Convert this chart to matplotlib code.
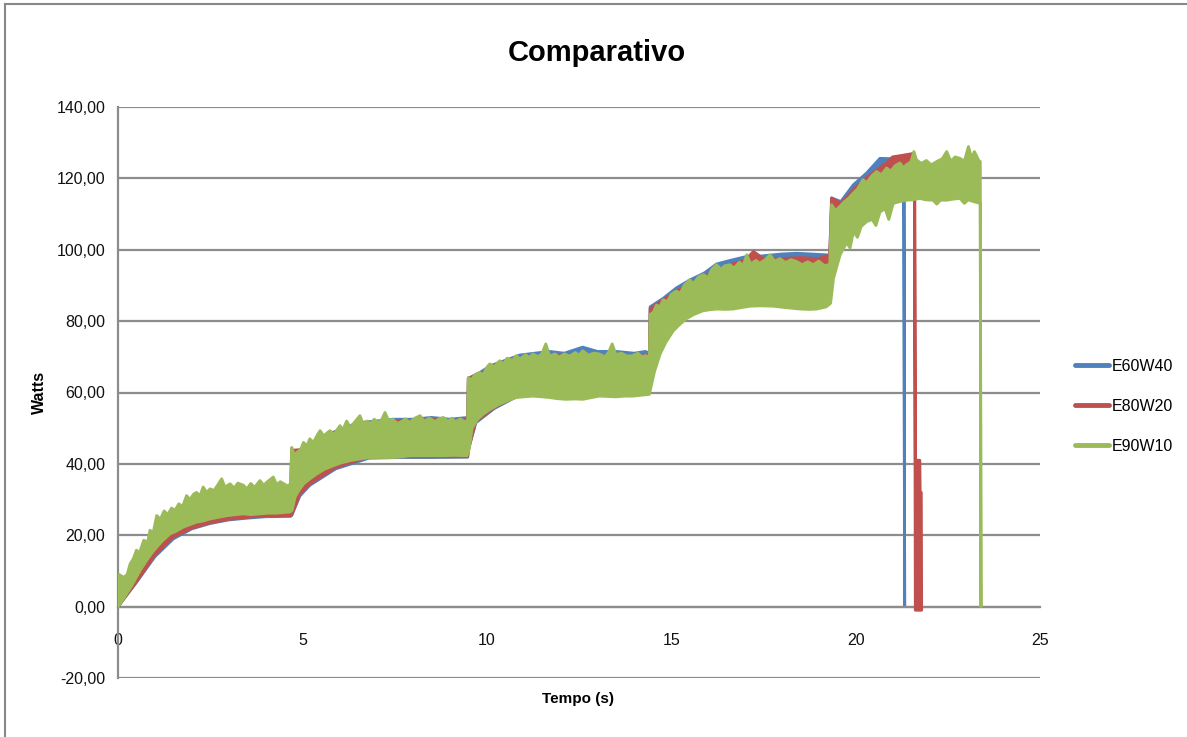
import matplotlib.pyplot as plt
from matplotlib.ticker import FuncFormatter, MultipleLocator
from matplotlib.lines import Line2D
import numpy as np

# series names / colours (Excel 2007 palette)
names = ['E60W40', 'E80W20', 'E90W10']
colors = ['#4F81BD', '#C0504D', '#9BBB59']

# E90W10 - upper and lower edge of the noisy band (t in s, W)
green_top_t = [0.00, 0.03, 0.15, 0.25, 0.33, 0.42, 0.50, 0.58, 0.70, 0.80, 0.87, 0.95, 1.05, 1.15, 1.25, 1.35,
               1.45, 1.55, 1.65, 1.75, 1.86, 1.95, 2.05, 2.13, 2.22, 2.31, 2.40, 2.50, 2.60, 2.70, 2.81, 2.90,
               3.04, 3.15, 3.25, 3.40, 3.50, 3.60, 3.70, 3.85, 3.95, 4.05, 4.21, 4.30, 4.40, 4.50, 4.60, 4.68,
               4.71, 4.78, 4.85, 4.95, 5.03, 5.12, 5.20, 5.30, 5.40, 5.48, 5.58, 5.66, 5.75, 5.85, 6.02, 6.10,
               6.20, 6.30, 6.40, 6.56, 6.65, 6.75, 6.84, 6.95, 7.05, 7.15, 7.24, 7.35, 7.45, 7.55, 7.65, 7.80,
               7.90, 8.05, 8.19, 8.30, 8.45, 8.60, 8.70, 8.82, 8.95, 9.05, 9.15, 9.28, 9.40, 9.48,
               9.50, 9.58, 9.68, 9.80, 9.90, 10.00, 10.08, 10.20, 10.35, 10.45, 10.55, 10.70, 10.80, 10.90,
               11.05, 11.15, 11.25, 11.40, 11.50, 11.60, 11.70, 11.85, 11.96, 12.10, 12.25, 12.40, 12.50,
               12.60, 12.75, 12.90, 13.05, 13.20, 13.30, 13.40, 13.50, 13.65, 13.80, 13.95, 14.10, 14.20,
               14.30, 14.41,
               14.43, 14.52, 14.60, 14.70, 14.78, 14.90, 15.00, 15.14, 15.25, 15.35, 15.50, 15.60, 15.75,
               15.87, 16.00, 16.10, 16.23, 16.35, 16.45, 16.60, 16.70, 16.85, 16.95, 17.05, 17.15, 17.30,
               17.40, 17.55, 17.68, 17.80, 17.95, 18.10, 18.25, 18.40, 18.55, 18.70, 18.85, 19.00, 19.15,
               19.30,
               19.35, 19.45, 19.58, 19.70, 19.82, 19.94, 20.05, 20.20, 20.30, 20.45, 20.57, 20.70, 20.84,
               20.95, 21.08, 21.20, 21.30, 21.38, 21.50, 21.58, 21.65, 21.78, 21.92, 22.05, 22.20, 22.35,
               22.47, 22.58, 22.70, 22.83, 22.95, 23.06, 23.15, 23.22, 23.29, 23.34, 23.38, 23.40]
green_top_v = [2.0, 9.0, 8.2, 9.0, 12.0, 13.5, 15.8, 15.0, 18.6, 18.0, 21.4, 20.5, 25.5, 24.5, 26.8, 25.8,
               27.6, 27.0, 28.8, 28.0, 31.1, 30.0, 31.5, 32.0, 31.0, 33.5, 32.0, 33.0, 32.5, 34.0, 35.8, 33.5,
               34.4, 33.2, 34.6, 34.0, 33.0, 34.5, 33.4, 35.3, 34.0, 35.0, 36.3, 34.2, 35.0, 34.4, 33.8, 34.4,
               44.6, 42.5, 43.2, 44.0, 46.0, 45.0, 47.0, 46.0, 48.0, 49.3, 47.8, 48.6, 49.3, 48.2, 50.7, 49.5,
               52.0, 50.2, 51.5, 53.5, 51.0, 52.0, 51.2, 52.5, 51.5, 52.4, 54.4, 51.8, 52.6, 51.4, 51.6, 52.6,
               51.6, 52.8, 53.5, 52.0, 52.8, 51.8, 52.6, 53.0, 51.9, 52.8, 51.8, 52.6, 51.9, 52.0,
               64.2, 63.5, 65.0, 65.6, 65.0, 67.0, 68.0, 67.2, 68.9, 68.0, 69.6, 69.0, 70.3, 69.4,
               70.6, 69.8, 70.8, 70.0, 71.0, 73.6, 70.2, 70.8, 69.9, 70.8, 70.2, 71.2, 70.4,
               71.7, 70.5, 71.0, 70.8, 70.0, 71.2, 73.6, 70.6, 71.0, 70.2, 70.3, 71.0, 70.0,
               70.3, 70.0,
               81.9, 82.5, 84.5, 84.0, 86.0, 85.5, 87.5, 88.4, 87.8, 90.0, 91.6, 90.5, 92.5,
               93.0, 92.2, 94.5, 95.8, 94.5, 95.5, 95.8, 94.8, 96.5, 95.5, 98.6, 96.0, 97.0,
               96.2, 97.2, 98.6, 96.8, 97.5, 96.4, 97.2, 96.7, 95.8, 96.6, 95.8, 96.8, 95.6,
               95.8,
               112.6, 111.0, 112.2, 113.5, 114.5, 115.9, 117.0, 119.6, 118.8, 120.8, 121.9, 121.0, 122.9,
               122.0, 123.6, 124.3, 123.0, 123.8, 124.6, 127.5, 125.2, 124.2, 125.0, 123.8, 124.7, 125.5,
               127.5, 124.8, 126.0, 125.6, 124.8, 128.9, 125.5, 127.5, 126.1, 125.0, 124.7, 0.0]
green_bot_t = [0.00, 0.10, 0.24, 0.35, 0.50, 0.62, 0.78, 0.90, 1.05, 1.20, 1.41, 1.55, 1.77, 1.95, 2.13,
               2.30, 2.50, 2.70, 2.95, 3.20, 3.40, 3.60, 3.85, 4.05, 4.30, 4.50, 4.66,
               4.72, 4.80, 4.90, 5.03, 5.20, 5.39, 5.60, 5.84, 6.05, 6.29, 6.55, 6.84, 7.10, 7.47, 7.70,
               7.92, 8.30, 8.82, 9.10, 9.46,
               9.52, 9.60, 9.75, 9.91, 10.05, 10.18, 10.30, 10.45, 10.60, 10.80, 11.00, 11.25, 11.50,
               11.70, 11.90, 12.15, 12.40, 12.60, 12.85, 13.05, 13.30, 13.50, 13.75, 13.95, 14.15, 14.41,
               14.46, 14.55, 14.70, 14.85, 15.05, 15.20, 15.40, 15.60, 15.86, 16.05, 16.24, 16.45, 16.68,
               16.90, 17.14, 17.40, 17.77, 18.10, 18.50, 18.75, 18.95, 19.20, 19.32,
               19.40, 19.58, 19.76, 19.85, 19.94, 20.05, 20.15, 20.30, 20.45, 20.55, 20.66, 20.80, 20.90,
               21.02, 21.20, 21.38, 21.55, 21.74, 21.90, 22.10, 22.20, 22.30, 22.47, 22.65, 22.83, 22.95,
               23.05, 23.20, 23.38, 23.40]
green_bot_v = [0.0, 1.5, 3.7, 5.5, 8.3, 10.5, 13.0, 14.8, 16.7, 18.4, 20.4, 21.0, 22.3, 23.0, 23.7,
               24.0, 24.6, 25.0, 25.5, 25.8, 26.0, 25.8, 26.0, 26.2, 26.2, 26.4, 26.5,
               27.0, 30.7, 32.5, 34.4, 35.8, 37.2, 38.5, 39.5, 40.3, 40.9, 41.4, 41.8, 41.8, 41.8, 42.0,
               42.3, 42.3, 42.3, 42.4, 42.3,
               44.0, 50.0, 52.5, 54.0, 55.0, 55.8, 56.5, 57.2, 57.9, 58.6, 58.8, 59.0, 58.8,
               58.6, 58.3, 58.1, 58.2, 58.1, 58.6, 59.0, 58.9, 58.8, 59.0, 59.0, 59.2, 59.5,
               62.0, 66.0, 70.8, 74.0, 77.2, 78.8, 80.6, 81.8, 82.9, 83.2, 83.4, 83.3, 83.4,
               83.8, 84.2, 84.3, 84.2, 83.8, 83.4, 83.3, 83.4, 84.0, 85.0,
               92.0, 98.6, 102.0, 100.5, 105.1, 103.5, 106.5, 107.9, 108.5, 106.8, 110.6, 111.5, 108.5,
               113.0, 113.5, 113.9, 114.0, 114.4, 114.0, 113.9, 112.8, 113.9, 113.9, 114.2, 114.4, 113.0,
               114.0, 113.5, 113.0, 0.0]

# E60W40 band (mostly hidden behind green, only edges show)
blue_top_t = [0.00, 0.05, 0.50, 1.00, 1.50, 2.00, 2.50, 3.00, 3.50, 4.00, 4.68,
              4.71, 5.00, 5.50, 6.00, 6.50, 7.00, 7.50, 8.00, 8.50, 9.00, 9.48,
              9.50, 9.80, 10.10, 10.50, 10.90, 11.30, 11.70, 12.10, 12.60, 13.00, 13.50, 14.00, 14.30, 14.41,
              14.43, 14.80, 15.14, 15.50, 15.90, 16.23, 16.60, 17.00, 17.40, 17.70, 18.00, 18.40, 18.80, 19.30,
              19.35, 19.60, 19.94, 20.30, 20.66, 21.00, 21.31, 21.33]
blue_top_v = [0.0, 3.0, 10.0, 17.0, 22.0, 25.5, 27.5, 28.5, 29.0, 29.5, 30.0,
              43.5, 44.0, 47.5, 49.5, 51.5, 52.0, 52.5, 52.5, 53.0, 52.5, 53.0,
              64.0, 65.5, 67.5, 69.0, 70.5, 71.0, 71.5, 71.0, 72.7, 71.5, 71.5, 71.0, 71.5, 71.0,
              84.0, 86.5, 89.3, 91.5, 93.5, 96.0, 97.0, 98.0, 98.2, 98.5, 98.8, 99.0, 98.8, 98.5,
              114.5, 113.5, 118.2, 121.5, 125.6, 125.5, 126.0, 0.0]
blue_bot_t = [0.00, 0.50, 1.00, 1.50, 2.00, 2.50, 3.00, 3.50, 4.00, 4.68,
              4.71, 4.93, 5.20, 5.90, 6.80, 7.70, 8.50, 9.48,
              9.50, 9.70, 10.20, 10.80, 11.30, 12.00, 13.00, 14.41,
              14.43, 15.00, 15.50, 16.00, 17.00, 18.00, 19.32,
              19.35, 19.50, 20.00, 20.50, 21.00, 21.31, 21.33]
blue_bot_v = [0.0, 6.8, 14.0, 19.0, 21.8, 23.3, 24.3, 24.8, 25.2, 25.3,
              25.5, 31.0, 34.0, 38.6, 41.6, 41.8, 41.8, 41.9,
              44.0, 51.5, 55.5, 58.8, 60.0, 60.0, 60.0, 60.5,
              66.0, 79.0, 83.0, 86.0, 87.0, 87.0, 87.0,
              92.0, 101.0, 107.0, 111.0, 114.0, 115.0, 0.0]

# E80W20 band, with the short oscillation after the drop
red_top_t = [0.00, 0.05, 0.50, 1.00, 1.50, 2.00, 2.50, 3.00, 3.50, 4.00, 4.68,
             4.71, 5.00, 5.50, 6.00, 6.50, 7.00, 7.50, 8.00, 8.50, 9.00, 9.48,
             9.50, 9.80, 10.30, 10.80, 11.50, 12.00, 12.60, 13.00, 13.50, 14.00, 14.41,
             14.43, 14.80, 15.20, 15.60, 16.00, 16.50, 17.00, 17.23, 17.50, 18.00, 18.50, 19.00, 19.30,
             19.35, 19.60, 20.00, 20.40, 20.80, 21.00, 21.30, 21.58, 21.60,
             21.62, 21.74, 21.75, 21.78, 21.79]
red_top_v = [0.0, 3.0, 10.0, 17.0, 22.0, 25.5, 27.5, 28.5, 29.0, 29.5, 30.0,
             43.8, 44.0, 47.0, 49.5, 51.0, 51.5, 52.0, 52.0, 52.5, 52.0, 52.5,
             64.0, 65.0, 68.0, 69.5, 70.0, 70.5, 70.5, 70.0, 70.5, 70.0, 70.5,
             83.5, 86.0, 88.8, 91.0, 93.0, 95.5, 97.0, 99.5, 97.5, 97.5, 97.8, 97.5, 98.6,
             114.5, 113.0, 117.5, 121.0, 124.0, 126.0, 126.5, 127.0, 126.0,
             41.0, 41.0, 32.0, 32.0, -1.0]
red_bot_t = [0.00, 0.50, 1.00, 1.50, 2.00, 2.50, 3.00, 3.50, 4.00, 4.68,
             4.71, 4.93, 5.20, 5.90, 6.80, 7.70, 8.50, 9.48,
             9.50, 9.70, 10.20, 10.80, 11.30, 12.00, 13.00, 14.41,
             14.43, 15.00, 15.50, 16.00, 17.00, 18.00, 19.32,
             19.35, 19.50, 20.00, 20.50, 21.00, 21.58, 21.60, 21.62, 21.79]
red_bot_v = [0.0, 7.0, 14.5, 19.5, 22.0, 23.5, 24.5, 25.0, 25.5, 25.5,
             25.8, 31.5, 34.4, 39.0, 42.0, 42.0, 42.0, 42.0,
             44.0, 51.8, 55.8, 59.0, 60.2, 60.2, 60.0, 60.5,
             66.0, 79.0, 83.0, 86.0, 87.0, 87.0, 87.0,
             92.0, 101.0, 107.0, 111.0, 114.0, 115.0, 114.0, -1.0, -1.0]

bands = [(blue_top_t, blue_top_v, blue_bot_t, blue_bot_v),
         (red_top_t, red_top_v, red_bot_t, red_bot_v),
         (green_top_t, green_top_v, green_bot_t, green_bot_v)]

plt.rcParams['font.family'] = ['Liberation Sans', 'DejaVu Sans']
plt.rcParams['axes.unicode_minus'] = False

fig = plt.figure(figsize=(11.87, 7.37), dpi=100)
ax = fig.add_axes([118/1187, 1-678/737, 922/1187, 571/737])

grid_c = '#8c8c8c'
for i, (tt, tv, bt, bv) in enumerate(bands):
    # band outline: top edge forwards, bottom edge backwards
    xs = np.r_[tt, bt[::-1]]
    ys = np.r_[tv, bv[::-1]]
    ax.fill(xs, ys, facecolor=colors[i], edgecolor=colors[i], lw=2.1, joinstyle='round', zorder=2+i)

ax.set_xlim(0, 25)
ax.set_ylim(-20, 140)
ax.xaxis.set_major_locator(MultipleLocator(5))
ax.yaxis.set_major_locator(MultipleLocator(20))
ax.yaxis.set_major_formatter(FuncFormatter(lambda v, p: '{:.2f}'.format(v).replace('.', ',')))
ax.grid(axis='y', color=grid_c, lw=1.6, zorder=1)
ax.set_axisbelow(True)

for s in ['top', 'right']:
    ax.spines[s].set_visible(False)
ax.spines['left'].set_color(grid_c)
ax.spines['left'].set_linewidth(1.6)
ax.spines['bottom'].set_position(('data', 0))
ax.spines['bottom'].set_color(grid_c)
ax.spines['bottom'].set_linewidth(1.6)
ax.tick_params(axis='x', length=0, pad=19, labelsize=11.5, colors='#111111')
ax.tick_params(axis='y', length=0, pad=9, labelsize=11.5, colors='#111111')

ax.set_xlabel('Tempo (s)', fontsize=11, fontweight='bold')
ax.xaxis.set_label_coords(0.499, -0.024)
ax.set_ylabel('Watts', fontsize=11.5, fontweight='bold')
ax.yaxis.set_label_coords(-0.077, 0.5)

fig.text(597/1187, 1-53/737, 'Comparativo', fontsize=21, fontweight='bold', ha='center', va='center')

handles = [Line2D([], [], color=c, lw=3.5, solid_capstyle='round') for c in colors]
fig.legend(handles, names, loc='upper left', bbox_to_anchor=(1075/1187, 1-359/737),
           frameon=False, fontsize=11.5, handlelength=2.1, handletextpad=0.2,
           labelspacing=1.55, borderpad=0, borderaxespad=0)

# outer chart frame (left + top edge)
fig.add_artist(Line2D([5/1187, 5/1187], [0, 1-4/737], color='#888888', lw=1.5))
fig.add_artist(Line2D([5/1187, 1], [1-4/737, 1-4/737], color='#888888', lw=1.5))

fig.savefig('out.png', dpi=100)
